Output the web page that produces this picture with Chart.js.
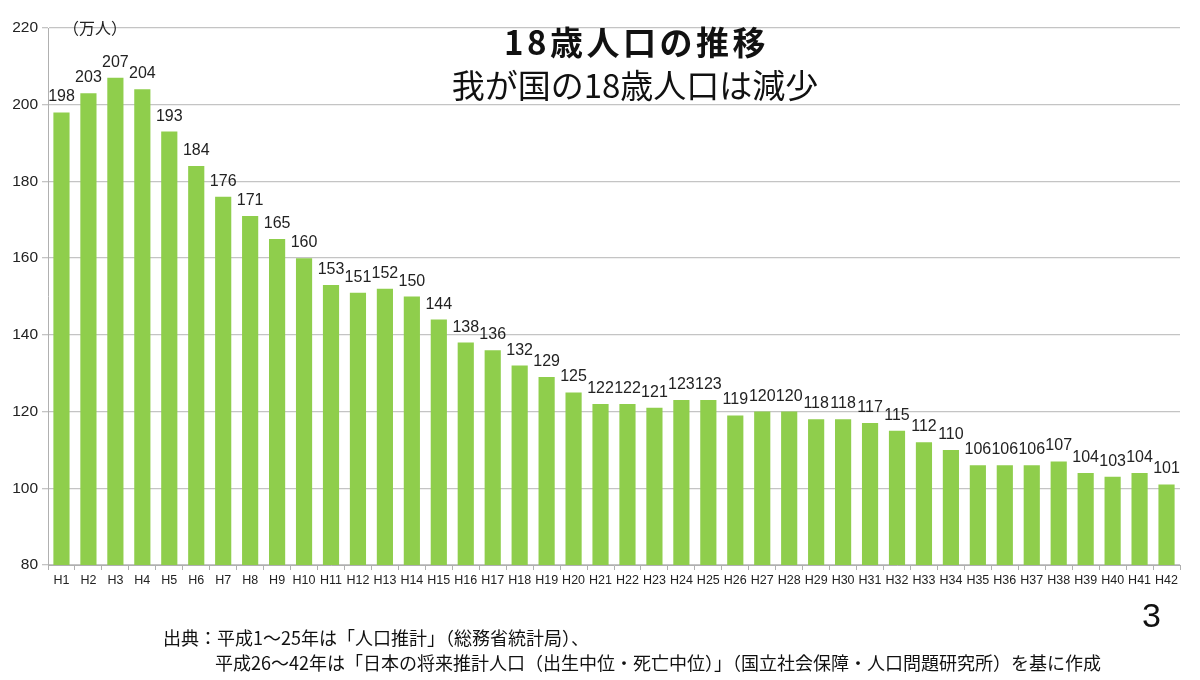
<!DOCTYPE html>
<html>
<head>
<meta charset="utf-8">
<script src="https://cdn.jsdelivr.net/npm/chart.js@4/dist/chart.umd.min.js"></script>
<style>
  html, body { margin: 0; padding: 0; background: #fff; }
  #wrap { position: relative; width: 1200px; height: 680px; overflow: hidden; }
  #c { position: absolute; left: 0; top: 0; }
  .txt { position: absolute; white-space: nowrap; color: #111; font-family: "Noto Sans CJK JP", "Noto Sans", sans-serif; }
  #title { left: 0; width: 1273px; top: 17px; text-align: center; font-size: 33px; font-weight: bold; letter-spacing: 3.5px; }
  #subtitle { left: 0; width: 1270px; top: 60px; text-align: center; font-size: 33px; }
  #unit { left: 63px; top: 15px; font-size: 16px; color: #222; }
  #src1 { left: 163px; top: 624px; font-size: 18px; }
  #src2 { left: 215px; top: 649px; font-size: 18px; }
  #page { left: 1142px; top: 596px; font-size: 34px; font-family: "Liberation Sans", Arial, sans-serif; }
</style>
</head>
<body>
<div id="wrap">
  <canvas id="c" width="1200" height="680"></canvas>
  <div class="txt" id="title">18歳人口の推移</div>
  <div class="txt" id="subtitle">我が国の18歳人口は減少</div>
  <div class="txt" id="unit">（万人）</div>
  <div class="txt" id="src1">出典：平成1～25年は「人口推計」（総務省統計局）、</div>
  <div class="txt" id="src2">平成26～42年は「日本の将来推計人口（出生中位・死亡中位）」（国立社会保障・人口問題研究所）を基に作成</div>
  <div class="txt" id="page">3</div>
</div>
<script>
const categories = ["H1","H2","H3","H4","H5","H6","H7","H8","H9","H10","H11","H12","H13","H14","H15","H16","H17","H18","H19","H20","H21","H22","H23","H24","H25","H26","H27","H28","H29","H30","H31","H32","H33","H34","H35","H36","H37","H38","H39","H40","H41","H42"];
const population = [198,203,207,204,193,184,176,171,165,160,153,151,152,150,144,138,136,132,129,125,122,122,121,123,123,119,120,120,118,118,117,115,112,110,106,106,106,107,104,103,104,101];
const yMin = 80, yMax = 220, yStep = 20;

const valueLabels = {
  id: 'valueLabels',
  afterDatasetsDraw(chart) {
    const ctx = chart.ctx;
    const meta = chart.getDatasetMeta(0);
    ctx.save();
    ctx.font = '16px "Liberation Sans", Arial, sans-serif';
    ctx.fillStyle = '#222';
    ctx.textAlign = 'center';
    ctx.textBaseline = 'alphabetic';
    meta.data.forEach((bar, i) => {
      ctx.fillText(String(population[i]), bar.x, bar.y - 11);
    });
    ctx.restore();
  }
};

new Chart(document.getElementById('c'), {
  type: 'bar',
  data: {
    labels: categories,
    datasets: [{
      data: population,
      backgroundColor: '#8fce4c',
      borderWidth: 0,
      barPercentage: 0.6,
      categoryPercentage: 1.0
    }]
  },
  options: {
    responsive: false,
    animation: false,
    devicePixelRatio: 1,
    layout: { padding: { left: 0, right: 20, top: 28, bottom: 85 } },
    plugins: { legend: { display: false }, tooltip: { enabled: false }, title: { display: false } },
    scales: {
      x: {
        grid: { drawOnChartArea: false, drawTicks: true, tickLength: 5, color: '#b0b0b0', offset: true },
        border: { color: '#b0b0b0' },
        ticks: { color: '#222', font: { family: '"Liberation Sans", Arial, sans-serif', size: 12.5 }, maxRotation: 0, autoSkip: false, padding: 3 },
        afterFit(s) { s.height = 30; }
      },
      y: {
        min: yMin, max: yMax,
        grid: { color: '#c4c4c4', tickLength: 6, lineWidth: 1.3 },
        border: { color: '#b0b0b0' },
        ticks: { stepSize: yStep, color: '#222', font: { family: '"Liberation Sans", Arial, sans-serif', size: 15.5 }, padding: 4 },
        afterFit(s) { s.width = 48; }
      }
    }
  },
  plugins: [valueLabels]
});
</script>
</body>
</html>
